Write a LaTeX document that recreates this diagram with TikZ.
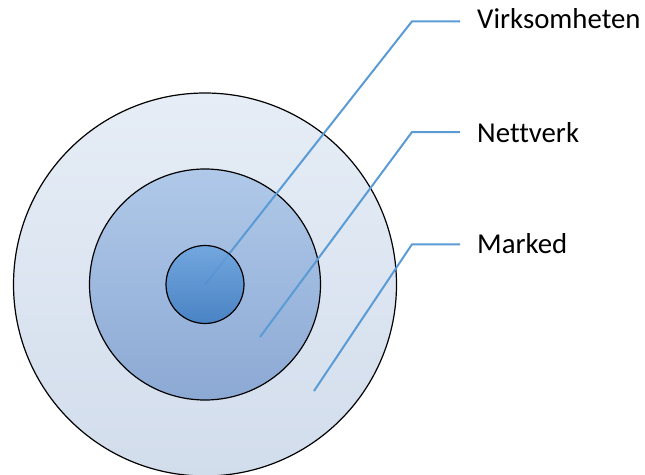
\documentclass[tikz,border=0pt]{standalone}
\usepackage{fontspec}
\setmainfont[Ligatures=NoCommon]{Carlito}

\definecolor{pointerblue}{HTML}{5B9BD5}
\definecolor{markedtop}{HTML}{E6EDF6}
\definecolor{markedbot}{HTML}{D2DDEC}
\definecolor{nettverktop}{HTML}{B0C9E9}
\definecolor{nettverkbot}{HTML}{8CA9D4}
\definecolor{virktop}{HTML}{6AA3DE}
\definecolor{virkbot}{HTML}{3D7BC1}

\begin{document}
\begin{tikzpicture}[x=1pt,y=-1pt,
    ring/.style={circle,draw=black,line width=1.2pt,inner sep=0},
    pointer/.style={draw=pointerblue,line width=2pt},
    lbl/.style={anchor=base west,inner sep=0,font=\fontsize{28.8}{34}\selectfont}]
\useasboundingbox (0,0) rectangle (645,474);

\coordinate (mid) at (205,284.5);
\node[ring,minimum size=383,top color=markedtop,bottom color=markedbot] (marked) at (mid) {};
\node[ring,minimum size=231,top color=nettverktop,bottom color=nettverkbot] (nettverk) at (mid) {};

% pointers from the rings out to the labels
\foreach \n/\sx/\sy/\by in {v/205/284.5/21.3, n/260/337/132, m/314/391/244.3}
{
        \coordinate (s\n) at (\sx,\sy);
        \coordinate (b\n) at (412,\by);
        \coordinate (e\n) at (460,\by);
        \draw[pointer] (s\n) -- (b\n) -- (e\n);
}

\node[lbl] (tv) at (477,28.3) {Virksomheten};
\node[lbl] (tn) at (477,142) {Nettverk};
\node[lbl] (tm) at (477,253.5) {Marked};

% core drawn last, slightly see-through over its pointer
\node[ring,minimum size=78,top color=virktop,bottom color=virkbot,fill opacity=0.85] (virk) at (mid) {};
\end{tikzpicture}
\end{document}
